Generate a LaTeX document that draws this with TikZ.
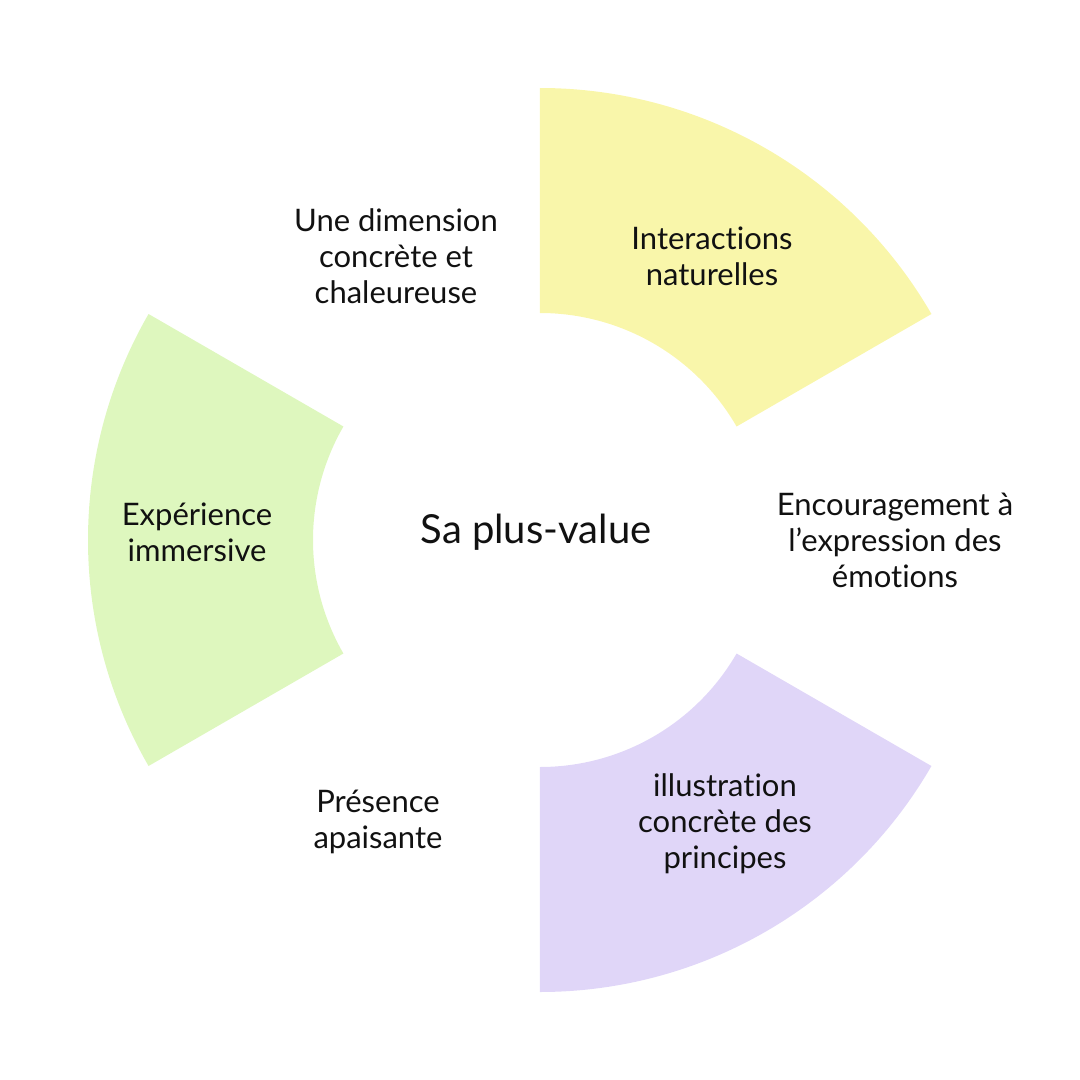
\documentclass[tikz,border=0pt]{standalone}
\usepackage{fontspec}
\setmainfont[Ligatures={NoCommon}]{Lato}
\usepackage{tikz}
\definecolor{sunny}{HTML}{F9F6AA}
\definecolor{leafy}{HTML}{DEF7BE}
\definecolor{lilac}{HTML}{E0D6F8}
\definecolor{ink}{HTML}{111111}
\tikzset{
  label/.style={align=center, text=ink, font=\fontsize{31}{36}\selectfont, inner sep=0pt},
  hub/.style={align=center, text=ink, font=\fontsize{40}{44}\selectfont, inner sep=0pt},
}

\begin{document}
\begin{tikzpicture}[x=1pt, y=1pt]
    \useasboundingbox (-540,-540) rectangle (540,540);
    % ring sectors: start angle / colour
    \foreach \a/\col in {30/sunny, 150/leafy, 270/lilac}{
      \fill[\col] (\a:227) -- (\a:452) arc[start angle=\a, end angle=\a+60, radius=452]
        -- (\a+60:227) arc[start angle=\a+60, end angle=\a, radius=227] -- cycle;
    }
    \node[hub]   (value)    at (-4,8)      {Sa plus-value};
    \node[label] (nature)   at (172,284)   {Interactions\\naturelles};
    \node[label] (warmth)   at (-144,284)  {Une dimension\\concrète et\\chaleureuse};
    \node[label] (immerse)  at (-343,8)    {Expérience\\immersive};
    \node[label] (emotions) at (355,0)     {Encouragement à\\l’expression des\\émotions};
    \node[label] (calm)     at (-162,-282) {Présence\\apaisante};
    \node[label] (rules)    at (185,-284)  {illustration\\concrète des\\principes};
  \end{tikzpicture}
\end{document}
